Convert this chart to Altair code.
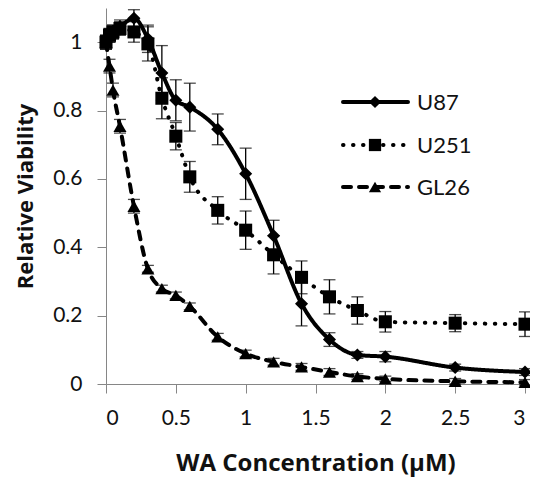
import altair as alt
import pandas as pd

# ---- data ----
conc = [0, 0.025, 0.05, 0.1, 0.2, 0.3, 0.4, 0.5, 0.6, 0.8, 1.0, 1.2, 1.4, 1.6, 1.8, 2.0, 2.5, 3.0]

u87 = [1.0, 1.02, 1.03, 1.045, 1.07, 1.01, 0.91, 0.83, 0.81, 0.745, 0.615, 0.434, 0.235, 0.13, 0.085, 0.08, 0.048, 0.035]
u87_err = [0.02, 0.02, 0.02, 0.02, 0.025, 0.04, 0.08, 0.06, 0.07, 0.045, 0.075, 0.045, 0.065, 0.02, 0.01, 0.015, 0.01, 0.01]

u251 = [1.0, 1.02, 1.03, 1.04, 1.03, 0.995, 0.836, 0.725, 0.606, 0.508, 0.45, 0.378, 0.312, 0.255, 0.215, 0.182, 0.178, 0.175]
u251_err = [0.02, 0.02, 0.02, 0.02, 0.03, 0.05, 0.06, 0.04, 0.045, 0.04, 0.056, 0.056, 0.048, 0.05, 0.04, 0.03, 0.025, 0.036]

gl26 = [1.0, 0.93, 0.86, 0.754, 0.52, 0.337, 0.279, 0.259, 0.227, 0.138, 0.089, 0.065, 0.05, 0.035, 0.022, 0.015, 0.008, 0.005]
gl26_err = [0.02, 0.02, 0.02, 0.02, 0.02, 0.01, 0.01, 0.01, 0.01, 0.01, 0.01, 0.01, 0.01, 0.01, 0.008, 0.008, 0.008, 0.008]

series_names = ["U87", "U251", "GL26"]
x_ticks = [0, 0.5, 1, 1.5, 2, 2.5, 3]
y_ticks = [0, 0.2, 0.4, 0.6, 0.8, 1.0]

rows = []
for name, vals, errs in [("U87", u87, u87_err), ("U251", u251, u251_err), ("GL26", gl26, gl26_err)]:
    for i, (c, v, e) in enumerate(zip(conc, vals, errs)):
        rows.append({"series": name, "conc": c, "value": v, "lo": v - e, "hi": v + e, "order": i})
df = pd.DataFrame(rows)

FONT = "Lato"
TITLE_FONT = "Open Sans"
BLACK = "#000000"
AXIS_GRAY = "#868686"

dash_scale = alt.Scale(domain=series_names, range=[[1, 0], [0.5, 9.5], [8, 8]])
shape_scale = alt.Scale(domain=series_names, range=["diamond", "square", "triangle-up"])

x_enc = alt.X("conc:Q", scale=alt.Scale(domain=[0, 3], nice=False, zero=False),
              axis=alt.Axis(values=x_ticks, format="~g", title="WA Concentration (µM)",
                            titleY=86, titleBaseline="alphabetic", titleFontSize=24))
y_enc = alt.Y("value:Q", scale=alt.Scale(domain=[0, 1.1], nice=False),
              axis=alt.Axis(values=y_ticks, format="~g", title="Relative Viability",
                            titleX=-74, titleY=188, titleBaseline="alphabetic",
                            titleAlign="center", titleAngle=-90, titleFontSize=22))

base = alt.Chart(df)

err_rule = base.mark_rule(color=BLACK, strokeWidth=1.3).encode(
    x="conc:Q", y="lo:Q", y2="hi:Q")
cap_lo = base.mark_tick(color=BLACK, orient="horizontal", size=12, thickness=1.3).encode(
    x="conc:Q", y="lo:Q")
cap_hi = base.mark_tick(color=BLACK, orient="horizontal", size=12, thickness=1.3).encode(
    x="conc:Q", y="hi:Q")

lines = base.mark_line(color=BLACK, strokeWidth=4, strokeCap="round", interpolate="monotone").encode(
    x=x_enc, y=y_enc,
    detail="series:N",
    order="order:Q",
    strokeDash=alt.StrokeDash("series:N", scale=dash_scale, legend=None),
)

points = base.mark_point(filled=True, color=BLACK, opacity=1, size=170).encode(
    x="conc:Q", y="value:Q",
    shape=alt.Shape("series:N", scale=shape_scale, legend=None),
)

# ---- manual legend (decoration) ----
leg_ys = [94, 137, 179]
leg_dashes = [[1, 0], [0.5, 9.5], [8, 8]]
leg_shapes = ["diamond", "square", "triangle-up"]
legend_layers = []
for name, ly, dsh, shp in zip(series_names, leg_ys, leg_dashes, leg_shapes):
    one = pd.DataFrame({"label": [name]})
    legend_layers.append(
        alt.Chart(one).mark_rule(color=BLACK, strokeWidth=4, strokeCap="round", strokeDash=dsh).encode(
            x=alt.value(237), x2=alt.value(302), y=alt.value(ly)))
    legend_layers.append(
        alt.Chart(one).mark_point(filled=True, color=BLACK, opacity=1, size=150, shape=shp).encode(
            x=alt.value(269), y=alt.value(ly)))
    legend_layers.append(
        alt.Chart(one).mark_text(font=FONT, fontSize=22, color="#111111", align="left", baseline="middle").encode(
            x=alt.value(311), y=alt.value(ly + 1), text="label:N"))

chart = alt.layer(lines, err_rule, cap_lo, cap_hi, points, *legend_layers).properties(
    width=419, height=376,
    autosize=alt.AutoSizeParams(type="none"),
    padding={"left": 98, "top": 0, "right": 5, "bottom": 95},
).configure_view(stroke=None).configure_axis(
    grid=False,
    domainColor=AXIS_GRAY, tickColor=AXIS_GRAY, domainWidth=1, tickWidth=1, tickSize=9,
    labelFont=FONT, labelFontSize=21, labelColor="#111111", labelPadding=14,
    titleFont=TITLE_FONT, titleFontWeight="bold", titleColor="#111111",
).configure_axisY(labelPadding=15)

chart.save("out.html", embed_options={"renderer": "svg", "actions": False})
